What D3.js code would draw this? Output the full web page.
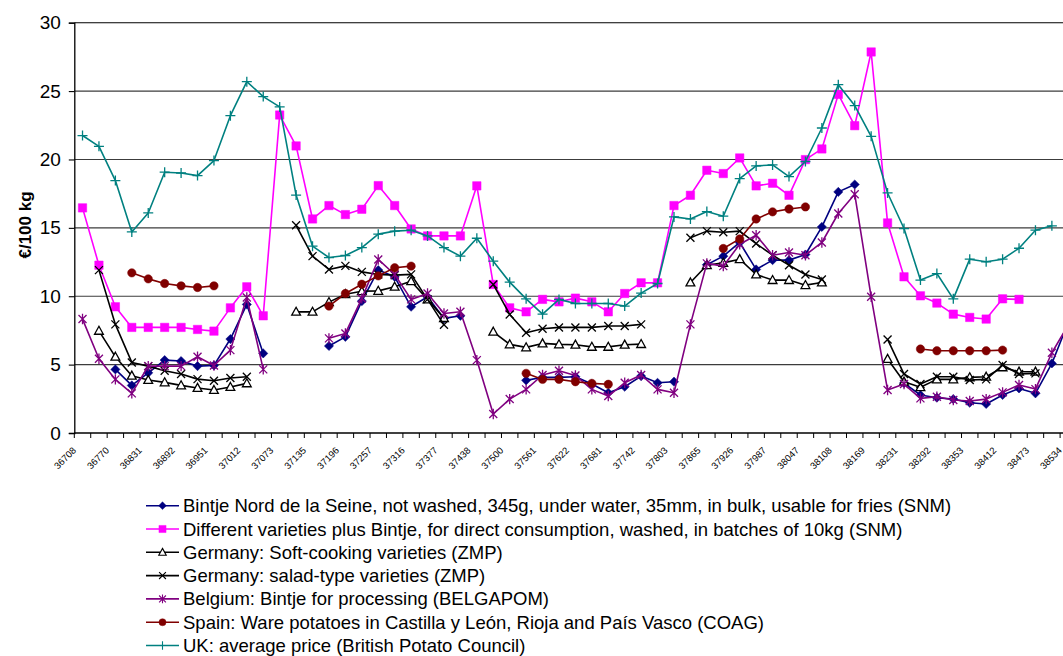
<!DOCTYPE html>
<html>
<head>
<meta charset="utf-8">
<script src="https://cdn.jsdelivr.net/npm/d3@7"></script>
<style>
  html, body { margin: 0; padding: 0; background: #fff; overflow: hidden; }
  svg { display: block; font-family: "Liberation Sans", Arial, sans-serif; }
</style>
</head>
<body>
<svg id="chart" width="1063" height="656"></svg>
<script>
// Monthly potato prices, July 2000 onward (one slot per month, null = no quote)
const tickLabels = [36708, 36770, 36831, 36892, 36951, 37012, 37073, 37135, 37196, 37257,
  37316, 37377, 37438, 37500, 37561, 37622, 37681, 37742, 37803, 37865, 37926, 37987,
  38047, 38108, 38169, 38231, 38292, 38353, 38412, 38473, 38534];

const bintjeSNM = [null, null, 4.65, 3.48, 4.4, 5.33, 5.26, 4.89, 4.94, 6.87,
  9.4, 5.82, null, null, null, 6.36, 7.03, 9.64, 11.91, 11.42,
  9.23, 9.96, 8.38, 8.57, null, null, null, 3.85, 4.07, 4.07,
  4.11, 3.58, 2.94, 3.38, 4.16, 3.67, 3.75, null, 12.3, 12.93,
  13.93, 11.96, 12.64, 12.64, 13.05, 15.07, 17.63, 18.17, null, null,
  3.65, 2.78, 2.58, 2.48, 2.21, 2.12, 2.78, 3.26, 2.9, 5.09, 8.1];

const varietiesSNM = [16.46, 12.27, 9.23, 7.72, 7.72, 7.72, 7.72, 7.57, 7.45, 9.15,
  10.69, 8.57, 23.25, 20.99, 15.65, 16.63, 15.97, 16.36, 18.09, 16.63,
  14.92, 14.41, 14.41, 14.41, 18.07, 10.86, 9.15, 8.86, 9.77, 9.59,
  9.86, 9.59, 8.86, 10.2, 10.98, 10.98, 16.63, 17.38, 19.21, 18.97,
  20.11, 18.07, 18.26, 17.38, 19.99, 20.77, 24.76, 22.47, 27.86, 15.36,
  11.42, 10.03, 9.5, 8.69, 8.45, 8.33, 9.81, 9.77, null, null, null];

const germanySoft = [null, 7.47, 5.57, 4.19, 3.87, 3.7, 3.48, 3.29, 3.14, 3.36,
  3.63, null, null, 8.86, 8.86, 9.57, 10.15, 10.37, 10.39, 10.69,
  11.1, 9.77, 8.4, null, null, 7.4, 6.48, 6.26, 6.55, 6.48,
  6.45, 6.3, 6.3, 6.45, 6.5, null, null, 11.0, 12.27, 12.44,
  12.71, 11.59, 11.18, 11.18, 10.81, 11.0, null, null, null, 5.41,
  3.75, 3.34, 3.92, 3.92, 4.07, 4.11, 4.8, 4.48, 4.48, null, null];

const germanySalad = [null, 11.91, 7.94, 5.16, 4.89, 4.55, 4.31, 3.94, 3.82, 4.02,
  4.11, null, null, 15.19, 12.93, 11.96, 12.22, 11.78, 11.59, 11.54,
  11.6, 9.77, 7.91, null, null, 10.86, 8.67, 7.33, 7.62, 7.72,
  7.72, 7.72, 7.82, 7.82, 7.94, null, null, 14.27, 14.76, 14.68,
  14.76, 13.85, 13.0, 12.27, 11.59, 11.22, null, null, null, 6.84,
  4.31, 3.58, 4.11, 4.11, 3.87, 3.92, 4.97, 4.31, 4.36, null, null];

const belgiumBintje = [8.33, 5.43, 3.92, 2.9, 4.89, 4.89, 4.89, 5.57, 4.94, 6.06,
  9.91, 4.65, null, null, null, 6.92, 7.28, 9.84, 12.69, 11.59,
  9.77, 10.2, 8.74, 8.86, 5.33, 1.39, 2.48, 3.19, 4.24, 4.55,
  4.21, 3.19, 2.7, 3.67, 4.24, 3.19, 2.94, 7.94, 12.4, 12.2,
  13.8, 14.46, 13.0, 13.2, 13.0, 13.93, 16.05, 17.46, 9.96, 3.14,
  3.58, 2.53, 2.65, 2.41, 2.34, 2.48, 2.97, 3.51, 3.21, 5.87, 7.9];

const spainCOAG = [null, null, null, 11.71, 11.27, 10.93, 10.76, 10.64, 10.76, null,
  null, null, null, null, null, 9.28, 10.2, 10.88, 11.49, 12.08,
  12.2, null, null, null, null, null, null, 4.36, 3.92, 3.92,
  3.75, 3.63, 3.56, null, null, null, null, null, null, 13.49,
  14.19, 15.65, 16.17, 16.38, 16.53, null, null, null, null, null,
  null, 6.14, 6.01, 6.01, 6.01, 6.01, 6.06, null, null, null, null];

const ukAverage = [21.75, 20.96, 18.46, 14.7, 16.09, 19.07, 19.01, 18.82, 19.92, 23.2,
  25.69, 24.6, 23.84, 17.4, 13.66, 12.83, 12.98, 13.56, 14.54, 14.76,
  14.83, 14.41, 13.56, 12.93, 14.24, 12.56, 11.03, 9.81, 8.69, 9.77,
  9.47, 9.47, 9.47, 9.28, 10.23, 10.93, 15.8, 15.65, 16.19, 15.85,
  18.6, 19.53, 19.6, 18.75, 19.85, 22.3, 25.47, 23.94, 21.69, 17.55,
  14.95, 11.18, 11.66, 9.81, 12.71, 12.52, 12.71, 13.51, 14.83, 15.15, null];

const seriesNames = [
  "Bintje Nord de la Seine, not washed, 345g, under water, 35mm, in bulk, usable for fries (SNM)",
  "Different varieties plus Bintje, for direct consumption, washed, in batches of 10kg (SNM)",
  "Germany: Soft-cooking varieties (ZMP)",
  "Germany: salad-type varieties (ZMP)",
  "Belgium: Bintje for processing (BELGAPOM)",
  "Spain: Ware potatoes in Castilla y León, Rioja and País Vasco (COAG)",
  "UK: average price (British Potato Council)"
];
const yTicks = [0, 5, 10, 15, 20, 25, 30];

// Marker shapes, centred on (0,0)
const markers = {
  diamond: { d: "M0,-4.6L4.6,0L0,4.6L-4.6,0Z", fill: true },
  square: { d: "M-4.2,-4.2H4.2V4.2H-4.2Z", fill: true },
  triangle: { d: "M0,-4.6L4.4,3.4L-4.4,3.4Z", fill: "white" },
  cross: { d: "M-4,-4L4,4M-4,4L4,-4", fill: false },
  star: { d: "M-4,-4L4,4M-4,4L4,-4M0,-5.2V5.2", fill: false },
  circle: { d: "M4.2,0A4.2,4.2 0 1 1 -4.2,0A4.2,4.2 0 1 1 4.2,0Z", fill: true },
  plus: { d: "M-5,0H5M0,-5V5", fill: false }
};

const series = [
  { name: seriesNames[0], values: bintjeSNM, color: "#000080", marker: "diamond" },
  { name: seriesNames[1], values: varietiesSNM, color: "#FF00FF", marker: "square" },
  { name: seriesNames[2], values: germanySoft, color: "#000000", marker: "triangle" },
  { name: seriesNames[3], values: germanySalad, color: "#000000", marker: "cross" },
  { name: seriesNames[4], values: belgiumBintje, color: "#800080", marker: "star" },
  { name: seriesNames[5], values: spainCOAG, color: "#800000", marker: "circle" },
  { name: seriesNames[6], values: ukAverage, color: "#008080", marker: "plus" }
];

const svg = d3.select("#chart");
const nMonths = 61;
const left = 74.3, monthWidth = 16.43;
const x = d3.scaleLinear().domain([0, nMonths]).range([left, left + nMonths * monthWidth]);
const y = d3.scaleLinear().domain([0, 30]).range([433, 22.7]);

const plot = svg.append("g");

// Horizontal gridlines
plot.selectAll("line.grid").data(yTicks.filter(v => v > 0)).join("line")
  .attr("class", "grid")
  .attr("x1", left).attr("x2", 1063)
  .attr("y1", d => y(d)).attr("y2", d => y(d))
  .attr("stroke", d => d === 30 ? "#000" : "#3c3c3c")
  .attr("stroke-width", 1.1);

// Y axis
const yAxis = d3.axisLeft(y).tickValues(yTicks).tickSize(5.5).tickPadding(8).tickFormat(d3.format("d"));
const gy = svg.append("g").attr("transform", `translate(${left},0)`).call(yAxis);
gy.select(".domain").attr("stroke", "#000").attr("stroke-width", 1.3);
gy.selectAll(".tick line").attr("stroke", "#000").attr("stroke-width", 1.1);
gy.selectAll(".tick text").attr("font-size", 19).attr("fill", "#000")
  .attr("font-family", "'Liberation Sans', Arial, sans-serif");

svg.append("text")
  .attr("transform", `translate(31,225) rotate(-90)`)
  .attr("text-anchor", "middle")
  .attr("font-size", 17).attr("font-weight", "bold")
  .text("€/100 kg");

// X axis: a tick at each month boundary, a label every second month
const monthTicks = d3.range(0, nMonths + 1);
const gx = svg.append("g").attr("transform", `translate(0,${y(0)})`);
gx.append("line").attr("x1", left).attr("x2", 1063).attr("stroke", "#000").attr("stroke-width", 1.3);
gx.selectAll("line.tick").data(monthTicks).join("line")
  .attr("class", "tick")
  .attr("x1", d => x(d)).attr("x2", d => x(d))
  .attr("y1", 0).attr("y2", 5).attr("stroke", "#000").attr("stroke-width", 1);
gx.selectAll("text").data(tickLabels).join("text")
  .attr("transform", (d, i) => `translate(${x(i * 2) + 2.5},${18}) rotate(-45)`)
  .attr("text-anchor", "end")
  .attr("font-size", 9.5)
  .text(d => d);

// Series lines and markers
const line = d3.line()
  .defined(d => d.v !== null)
  .x(d => x(d.i + 0.5))
  .y(d => y(d.v));

series.forEach(s => {
  const pts = s.values.map((v, i) => ({ i, v }));
  const g = plot.append("g");
  g.append("path")
    .datum(pts)
    .attr("d", line)
    .attr("fill", "none")
    .attr("stroke", s.color)
    .attr("stroke-width", 1.6)
    .attr("stroke-linejoin", "round");
  const m = markers[s.marker];
  g.selectAll("path.mk").data(pts.filter(p => p.v !== null)).join("path")
    .attr("class", "mk")
    .attr("transform", p => `translate(${x(p.i + 0.5)},${y(p.v)})`)
    .attr("d", m.d)
    .attr("fill", m.fill === true ? s.color : (m.fill || "none"))
    .attr("stroke", s.color)
    .attr("stroke-width", m.fill === true ? 0.5 : 1.3);
});

// Legend
const legend = svg.append("g");
series.forEach((s, k) => {
  const cy = 505.7 + k * 23.3;
  const row = legend.append("g").attr("transform", `translate(0,${cy})`);
  row.append("line").attr("x1", 146).attr("x2", 179).attr("y1", 0).attr("y2", 0)
    .attr("stroke", s.color).attr("stroke-width", 1.6);
  const m = markers[s.marker];
  row.append("path").attr("transform", "translate(162.5,0) scale(0.85)")
    .attr("d", m.d)
    .attr("fill", m.fill === true ? s.color : (m.fill || "none"))
    .attr("stroke", s.color)
    .attr("stroke-width", m.fill === true ? 0.5 : 1.3);
  row.append("text").attr("x", 183).attr("y", 6.5)
    .attr("font-size", 18.5).attr("fill", "#000")
    .text(s.name);
});
</script>
</body>
</html>
